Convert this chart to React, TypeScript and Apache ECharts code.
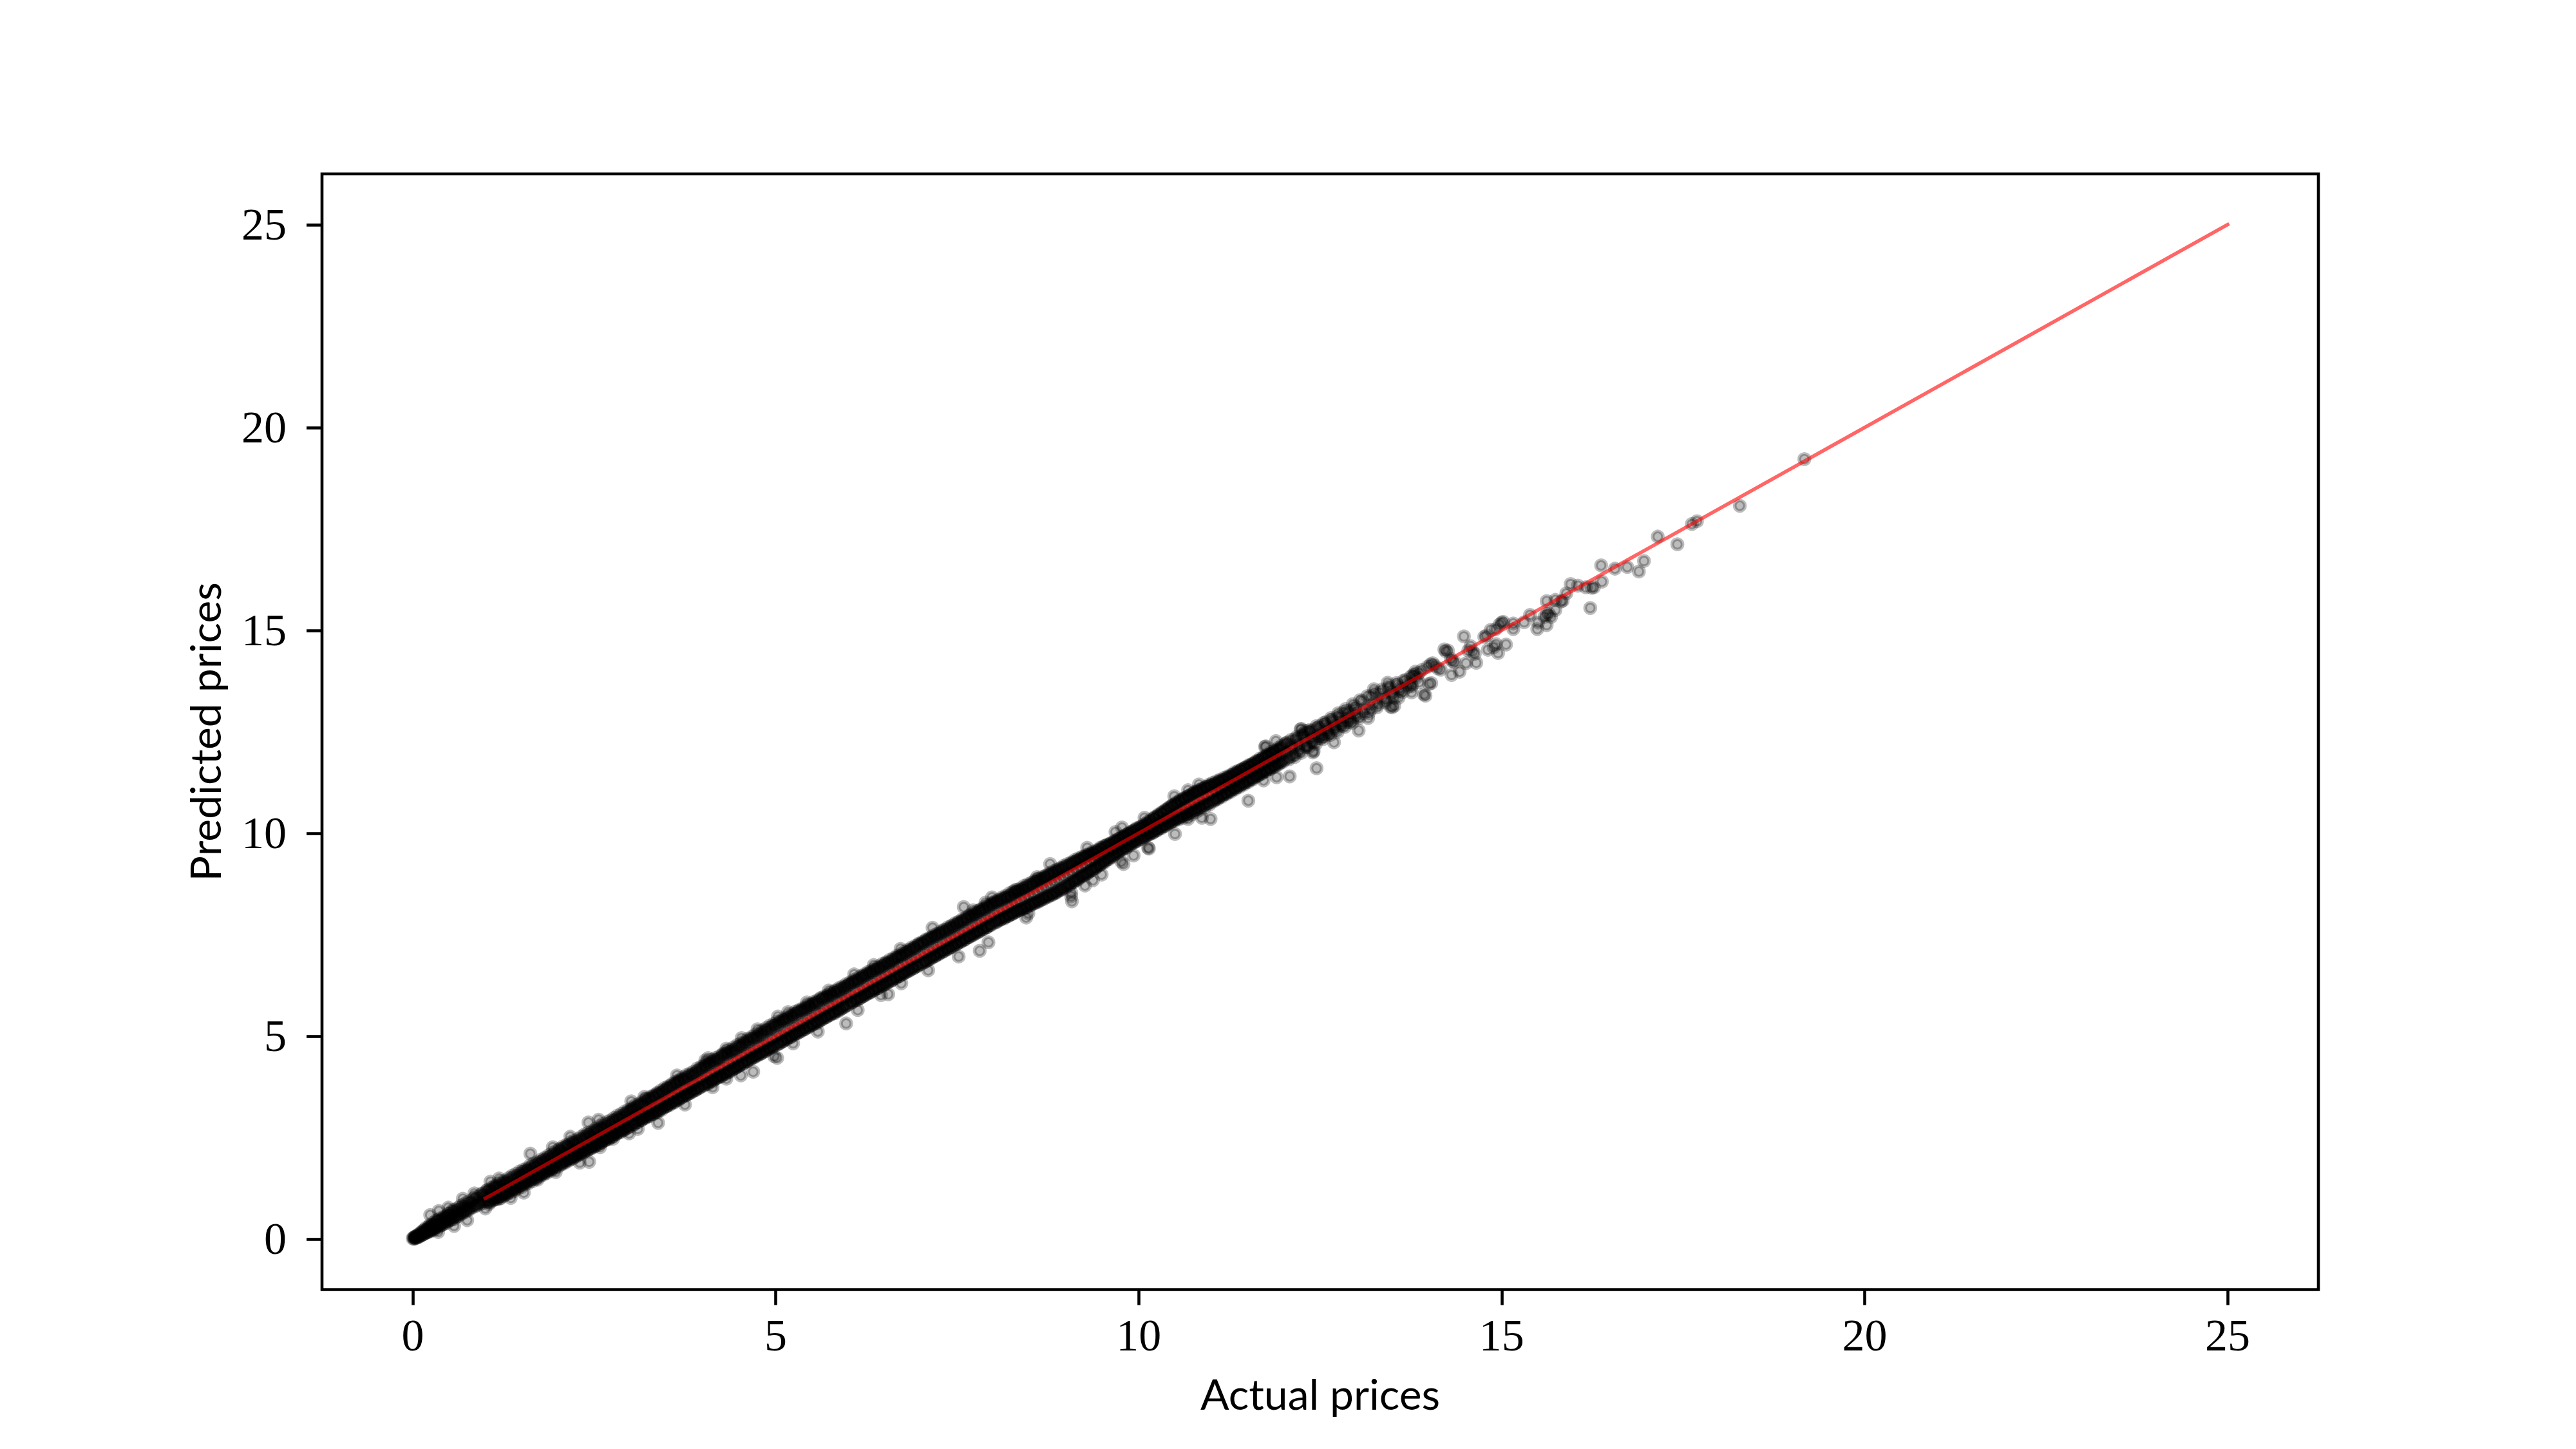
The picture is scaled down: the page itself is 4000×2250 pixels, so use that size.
import React, { useEffect, useRef } from "react";
import * as echarts from "echarts";

const xTickValues = [0, 5, 10, 15, 20, 25];
const yTickValues = [0, 5, 10, 15, 20, 25];
const xAxisTitle = "Actual prices";
const yAxisTitle = "Predicted prices";
const referenceLine = [[1, 1], [25, 25]];

// Flat x,y lists, one list per stretch of the cloud.
const band0 = [0,0.01,0.01,0.03,0.02,0,0.03,0.05,0.03,0.02,0.04,0.06,0.05,0.03,0.06,0.09,0.07,0.04,0.08,0.1,0.09,0.06,0.1,0.14,0.11,0.08,0.12,0.16,0.13,0.1,0.14,0.2,0.15,0.12,0.16,0.22,0.17,0.14,0.18,0.27,0.19,0.16,0.2,0.24,0.21,0.17,0.22,0.31,0.23,0.2,0.24,0.35,0.25,0.19,0.26,0.3,0.27,0.23,0.28,0.4,0.29,0.22,0.3,0.36,0.31,0.27,0.32,0.46,0.33,0.25,0.34,0.41,0.36,0.3,0.37,0.5,0.38,0.33,0.4,0.47,0.41,0.36,0.43,0.55,0.44,0.38,0.46,0.52,0.47,0.4,0.49,0.62,0.5,0.45,0.52,0.58,0.54,0.48,0.55,0.71,0.57,0.49,0.59,0.64,0.61,0.55,0.62,0.76,0.64,0.57,0.66,0.72,0.68,0.62,0.7,0.85,0.72,0.66,0.74,0.8,0.76,0.7,0.78,0.93,0.8,0.75,0.82,0.9,0.84,0.79,0.86,1.03,0.88,0.82,0.9,0.98,0.92,0.85,0.94,1.1,0.96,0.88,0.98,1.06];
const band1 = [1.01,1.14,1.02,0.92,1.04,1.06,1.05,0.86,1.07,1.2,1.09,1,1.1,1.17,1.12,0.99,1.14,1.29,1.15,1.04,1.17,1.1,1.19,1.3,1.2,1.05,1.22,1.22,1.24,1.1,1.25,1.36,1.27,1.16,1.29,1.24,1.3,1.12,1.32,1.42,1.34,1.22,1.35,1.3,1.37,1.5,1.39,1.24,1.4,1.32,1.42,1.28,1.44,1.55,1.45,1.4,1.47,1.3,1.49,1.6,1.5,1.38,1.52,1.58,1.54,1.4,1.55,1.62,1.57,1.42,1.59,1.72,1.6,1.5,1.62,1.44,1.64,1.76,1.65,1.58,1.67,1.52,1.69,1.8,1.7,1.62,1.72,1.56,1.74,1.88,1.75,1.66,1.77,1.6,1.79,1.92,1.8,1.72,1.82,1.64,1.84,1.98,1.85,1.78,1.87,1.7,1.89,2.02,1.9,1.82,1.92,1.74,1.94,2.08,1.95,1.88,1.97,1.8,1.99,2.1];
const band2 = [2.01,1.9,2.03,2.16,2.04,1.84,2.06,2.02,2.08,2.24,2.09,1.92,2.11,2.08,2.13,1.94,2.14,2.3,2.16,2,2.18,2.12,2.2,2.34,2.21,2.02,2.23,2.18,2.25,2.06,2.27,2.4,2.28,2.14,2.3,2.26,2.32,2.12,2.34,2.46,2.35,2.24,2.37,2.16,2.39,2.5,2.41,2.32,2.43,2.22,2.44,2.58,2.46,2.36,2.48,2.28,2.5,2.62,2.52,2.44,2.53,2.3,2.55,2.68,2.57,2.48,2.59,2.36,2.61,2.74,2.62,2.52,2.64,2.42,2.66,2.8,2.68,2.6,2.7,2.5,2.72,2.86,2.74,2.64,2.75,2.52,2.77,2.9,2.79,2.72,2.81,2.6,2.83,2.98,2.85,2.76,2.87,2.64,2.89,3.02,2.91,2.82,2.92,2.7,2.94,3.1,2.96,2.9,2.98,2.76,3,3.14];
const band3 = [3.02,2.92,3.03,3.2,3.05,2.84,3.07,3.04,3.09,3.26,3.11,2.96,3.13,3.08,3.15,2.92,3.17,3.3,3.18,3.06,3.2,3,3.22,3.38,3.24,3.16,3.26,3.02,3.28,3.42,3.3,3.2,3.32,3.08,3.33,3.5,3.35,3.26,3.37,3.12,3.39,3.56,3.41,3.32,3.43,3.18,3.45,3.62,3.47,3.38,3.49,3.26,3.5,3.7,3.52,3.44,3.54,3.3,3.56,3.78,3.58,3.5,3.6,3.36,3.62,3.84,3.64,3.58,3.66,3.42,3.67,3.88,3.69,3.62,3.71,3.5,3.73,3.92,3.75,3.68,3.77,3.54,3.79,3.98,3.81,3.72,3.83,3.6,3.85,4.02,3.87,3.8,3.89,3.66,3.91,4.1,3.93,3.86,3.95,3.72,3.97,4.2,3.99,3.92];
const band4 = [4.01,3.78,4.03,4.24,4.05,4,4.07,3.82,4.09,4.32,4.11,4.06,4.13,3.88,4.15,4.36,4.17,4.1,4.19,3.96,4.21,4.42,4.23,4.18,4.25,4,4.27,4.5,4.29,4.24,4.31,4.06,4.33,4.56,4.35,4.3,4.37,4.12,4.39,4.62,4.41,4.36,4.43,4.2,4.45,4.66,4.47,4.42,4.49,4.26,4.51,4.74,4.53,4.5,4.55,4.32,4.57,4.8,4.59,4.56,4.61,4.38,4.63,4.88,4.65,4.6,4.67,4.46,4.69,4.92,4.71,4.66,4.73,4.52,4.75,4.98,4.77,4.74,4.79,4.56,4.81,5.04,4.83,4.78,4.85,4.64,4.87,5.12,4.89,4.84,4.91,4.7,4.93,5.2,4.95,4.92,4.97,4.76,4.99,5.26];
const band5 = [5.01,4.98,5.03,4.8,5.05,5.3,5.07,5.02,5.09,4.86,5.11,5.38,5.13,5.1,5.15,4.92,5.17,5.42,5.19,5.16,5.21,4.98,5.23,5.48,5.25,5.22,5.27,5.06,5.29,5.56,5.31,5.28,5.33,5.1,5.35,5.6,5.37,5.34,5.39,5.16,5.41,5.66,5.43,5.42,5.45,5.22,5.47,5.72,5.49,5.48,5.51,5.28,5.53,5.78,5.55,5.54,5.57,5.32,5.59,5.82,5.61,5.58,5.63,5.4,5.65,5.9,5.67,5.66,5.69,5.46,5.71,5.96,5.73,5.72,5.75,5.52,5.77,6,5.79,5.76,5.81,5.56,5.83,6.06,5.85,5.84,5.87,5.62,5.89,6.1,5.91,5.9,5.93,5.7,5.95,6.2,5.97,5.94,5.99,5.76];
const band6 = [6.01,6.26,6.03,6,6.05,5.82,6.07,6.34,6.09,6.08,6.11,5.88,6.13,6.38,6.15,6.14,6.17,5.94,6.19,6.46,6.21,6.2,6.23,6,6.25,6.5,6.27,6.26,6.29,6.06,6.31,6.56,6.33,6.32,6.35,6.12,6.37,6.62,6.39,6.38,6.41,6.18,6.43,6.66,6.45,6.44,6.47,6.24,6.49,6.74,6.51,6.5,6.53,6.3,6.55,6.78,6.57,6.56,6.59,6.36,6.61,6.84,6.63,6.62,6.65,6.42,6.67,6.92,6.69,6.7,6.71,6.48,6.73,6.98,6.75,6.76,6.77,6.54,6.79,7.04,6.81,6.8,6.83,6.6,6.85,7.1,6.87,6.86,6.89,6.66,6.91,7.16,6.93,6.92,6.95,6.72,6.97,7.24,6.99,6.98];
const band7 = [7.01,6.78,7.03,7.3,7.05,7.04,7.07,6.84,7.09,7.34,7.11,7.1,7.13,6.9,7.15,7.42,7.17,7.16,7.19,6.96,7.21,7.46,7.23,7.22,7.25,7.02,7.27,7.52,7.29,7.28,7.31,7.08,7.33,7.56,7.35,7.34,7.37,7.14,7.39,7.62,7.41,7.4,7.43,7.2,7.45,7.68,7.47,7.46,7.49,7.26,7.51,7.76,7.53,7.52,7.55,7.32,7.57,7.82,7.59,7.58,7.61,7.38,7.63,7.88,7.65,7.64,7.67,7.44,7.69,7.94,7.71,7.7,7.73,7.5,7.75,8,7.77,7.76,7.79,7.56,7.81,8.06,7.83,7.82,7.85,7.62,7.87,8.12,7.89,7.88,7.91,7.68,7.93,8.18,7.95,7.94,7.97,7.74,7.99,8.26];
const band8 = [8.01,8,8.03,7.8,8.05,8.3,8.07,8.06,8.09,7.86,8.11,8.34,8.13,8.12,8.15,7.9,8.17,8.4,8.19,8.18,8.21,7.96,8.23,8.44,8.25,8.24,8.27,8.02,8.29,8.5,8.31,8.3,8.33,8.08,8.35,8.56,8.37,8.36,8.39,8.12,8.41,8.62,8.43,8.42,8.45,8.16,8.47,8.66,8.49,8.46,8.51,8.22,8.53,8.72,8.55,8.52,8.57,8.28,8.59,8.8,8.61,8.58,8.63,8.32,8.65,8.84,8.67,8.64,8.69,8.38,8.71,8.9,8.73,8.7,8.75,8.44,8.77,8.96,8.79,8.76,8.81,8.48,8.83,9,8.85,8.82,8.87,8.54,8.89,9.06,8.91,8.88,8.93,8.6,8.95,9.12,8.97,8.94,8.99,8.68];
const band9 = [9.01,9.18,9.03,9,9.05,8.72,9.07,9.24,9.09,9.06,9.11,8.8,9.13,9.3,9.15,9.12,9.17,8.86,9.19,9.36,9.21,9.18,9.23,8.94,9.25,9.4,9.27,9.24,9.29,9,9.31,9.46,9.33,9.3,9.35,9.08,9.37,9.5,9.39,9.36,9.41,9.14,9.43,9.56,9.45,9.42,9.47,9.22,9.49,9.64,9.51,9.48,9.53,9.28,9.55,9.7,9.57,9.54,9.59,9.36,9.61,9.74,9.63,9.6,9.65,9.42,9.67,9.8,9.69,9.66,9.71,9.5,9.73,9.86,9.75,9.72,9.77,9.58,9.79,9.92,9.81,9.78,9.83,9.64,9.85,9.98,9.87,9.84,9.89,9.72,9.91,10.04,9.93,9.9,9.95,9.78,9.97,10.1,9.99,9.96];
const band10 = [10.01,9.84,10.03,10.14,10.05,10.02,10.07,9.9,10.09,10.2,10.11,10.08,10.13,9.96,10.15,10.28,10.17,10.14,10.19,10,10.21,10.36,10.23,10.2,10.25,10.06,10.27,10.42,10.29,10.26,10.31,10.12,10.33,10.5,10.35,10.32,10.37,10.18,10.39,10.58,10.41,10.38,10.43,10.24,10.45,10.66,10.47,10.44,10.49,10.3,10.51,10.72,10.53,10.5,10.55,10.34,10.57,10.8,10.59,10.56,10.61,10.38,10.63,10.86,10.65,10.62,10.67,10.42,10.69,10.92,10.71,10.68,10.73,10.46,10.75,10.98,10.77,10.74,10.79,10.52,10.81,11.02,10.83,10.8,10.85,10.58,10.87,11.08,10.89,10.86,10.91,10.64,10.93,11.14,10.95,10.92,10.97,10.7,10.99,11.18];
const band11 = [11.01,10.98,11.03,10.78,11.05,11.22,11.07,11.04,11.09,10.84,11.11,11.28,11.13,11.1,11.15,10.9,11.17,11.32,11.19,11.16,11.21,10.96,11.23,11.38,11.25,11.22,11.27,11.02,11.29,11.44,11.31,11.28,11.33,11.08,11.35,11.5,11.37,11.34,11.39,11.14,11.41,11.56,11.43,11.4,11.45,11.2,11.47,11.6,11.49,11.46,11.51,11.26,11.53,11.66,11.55,11.52,11.57,11.32,11.59,11.72,11.61,11.58,11.63,11.4,11.65,11.78,11.67,11.64,11.69,11.46,11.71,11.84,11.73,11.7,11.75,11.52,11.77,11.9,11.79,11.76,11.81,11.58,11.83,11.96,11.85,11.82,11.87,11.64,11.89,12.02,11.91,11.88,11.93,11.7,11.95,12.08,11.97,11.94,11.99,11.76];
const band12 = [12.02,12.2,12.04,12,12.07,11.82,12.1,12.3,12.12,12.1,12.15,11.88,12.18,12.38,12.2,12.16,12.24,11.98,12.27,12.46,12.3,12.26,12.34,12.12,12.37,12.52,12.4,12.36,12.44,12.2,12.47,12.6,12.5,12.44,12.54,12.32,12.57,12.68,12.6,12.56,12.64,12.42,12.67,12.76,12.7,12.64,12.74,12.5,12.77,12.86,12.8,12.74,12.84,12.62,12.87,12.96,12.9,12.84,12.94,12.72,12.97,13.06,13,12.94];
const band13 = [13.04,12.84,13.08,13.26,13.12,13.08,13.17,12.96,13.2,13.38,13.24,13.2,13.28,13.1,13.32,13.46,13.36,13.34,13.4,13.22,13.44,13.58,13.48,13.46,13.52,13.34,13.56,13.66,13.6,13.58,13.64,13.48,13.68,13.78,13.72,13.7,13.76,13.62,13.8,13.9,13.83,13.84,13.86,13.72];
const fill0 = [0.02,0.04,0.04,0.02,0.06,0.07,0.08,0.05,0.1,0.11,0.12,0.09,0.14,0.17,0.16,0.13,0.18,0.2,0.2,0.16,0.22,0.27,0.24,0.21,0.26,0.33,0.28,0.25,0.3,0.33,0.32,0.29,0.34,0.46,0.36,0.34,0.38,0.42,0.4,0.34,0.42,0.52,0.44,0.42,0.46,0.56,0.48,0.44,0.5,0.62,0.52,0.47,0.54,0.67,0.56,0.53,0.58,0.72,0.6,0.56,0.62,0.7,0.64,0.61,0.66,0.82,0.68,0.65,0.7,0.78,0.72,0.69,0.74,0.9,0.76,0.73,0.78,0.86,0.8,0.78,0.84,1,0.86,0.83,0.9,1.04,0.92,0.9,0.96,1.12,0.98,0.93];
const fill1 = [1.03,1.2,1.06,0.9,1.08,1.13,1.11,0.95,1.13,1.28,1.16,0.98,1.18,1.24,1.21,1,1.23,1.34,1.26,1.07,1.28,1.4,1.31,1.14,1.33,1.38,1.36,1.2,1.38,1.46,1.41,1.22,1.43,1.5,1.46,1.3,1.48,1.56,1.51,1.34,1.53,1.66,1.56,1.38,1.58,1.68,1.61,1.46,1.63,1.7,1.66,1.48,1.68,1.78,1.71,1.54,1.73,1.84,1.76,1.58,1.78,1.86,1.81,1.62,1.83,1.92,1.86,1.68,1.88,1.96,1.91,1.72,1.93,2,1.96,1.76,1.98,2.06];
const fill2 = [2.02,2.2,2.05,1.86,2.07,2.14,2.1,1.9,2.12,2.28,2.15,1.96,2.17,2.24,2.2,1.98,2.22,2.38,2.25,2.04,2.27,2.34,2.3,2.08,2.32,2.44,2.35,2.14,2.37,2.52,2.4,2.18,2.42,2.56,2.45,2.24,2.47,2.54,2.5,2.28,2.52,2.66,2.55,2.34,2.57,2.7,2.6,2.38,2.62,2.72,2.65,2.44,2.67,2.76,2.7,2.46,2.72,2.82,2.75,2.56,2.77,2.92,2.8,2.58,2.82,2.96,2.85,2.66,2.87,2.98,2.9,2.68,2.92,3.06,2.95,2.74,2.97,3.12];
const fill3 = [3.02,3.2,3.05,2.82,3.07,3.22,3.1,2.88,3.12,3.3,3.15,2.94,3.17,3.34,3.2,2.98,3.22,3.44,3.25,3.04,3.27,3.46,3.3,3.08,3.32,3.52,3.35,3.12,3.37,3.58,3.4,3.18,3.42,3.6,3.45,3.24,3.47,3.66,3.5,3.28,3.52,3.72,3.55,3.34,3.57,3.74,3.6,3.38,3.62,3.82,3.65,3.44,3.67,3.9,3.7,3.48,3.72,3.94,3.75,3.54,3.77,3.96,3.8,3.58,3.82,4.04,3.85,3.64,3.87,4.06,3.9,3.68,3.92,4.14,3.95,3.74,3.97,4.16];
const fill4 = [4.02,4.26,4.05,3.82,4.07,4.3,4.1,3.88,4.12,4.36,4.15,3.92,4.17,4.4,4.2,3.98,4.22,4.44,4.25,4.02,4.27,4.54,4.3,4.08,4.32,4.58,4.35,4.12,4.37,4.6,4.4,4.18,4.42,4.64,4.45,4.22,4.47,4.72,4.5,4.28,4.52,4.76,4.55,4.34,4.57,4.84,4.6,4.38,4.62,4.86,4.65,4.44,4.67,4.94,4.7,4.48,4.72,4.96,4.75,4.54,4.77,5.02,4.8,4.58,4.82,5.08,4.85,4.62,4.87,5.14,4.9,4.68,4.92,5.16,4.95,4.72,4.97,5.24];
const fill5 = [5.02,5.28,5.05,4.82,5.07,5.36,5.1,4.88,5.12,5.4,5.15,4.94,5.17,5.44,5.2,4.98,5.22,5.5,5.25,5.04,5.27,5.54,5.3,5.08,5.32,5.62,5.35,5.14,5.37,5.64,5.4,5.18,5.42,5.7,5.45,5.24,5.47,5.76,5.5,5.28,5.52,5.8,5.55,5.34,5.57,5.84,5.6,5.38,5.62,5.92,5.65,5.44,5.67,5.94,5.7,5.48,5.72,6,5.75,5.54,5.77,6.04,5.8,5.58,5.82,6.1,5.85,5.64,5.87,6.14,5.9,5.68,5.92,6.18,5.95,5.74,5.97,6.22];
const fill6 = [6.02,6.28,6.05,5.84,6.07,6.32,6.1,5.9,6.12,6.36,6.15,5.92,6.17,6.42,6.2,5.98,6.22,6.48,6.25,6.04,6.27,6.54,6.3,6.08,6.32,6.58,6.35,6.14,6.37,6.64,6.4,6.18,6.42,6.68,6.45,6.24,6.47,6.72,6.5,6.28,6.52,6.8,6.55,6.34,6.57,6.82,6.6,6.38,6.62,6.88,6.65,6.44,6.67,6.94,6.7,6.48,6.72,6.98,6.75,6.54,6.77,7.02,6.8,6.58,6.82,7.08,6.85,6.64,6.87,7.14,6.9,6.68,6.92,7.18,6.95,6.74,6.97,7.26];
const fill7 = [7.02,7.28,7.05,6.82,7.07,7.36,7.1,6.88,7.12,7.4,7.15,6.94,7.17,7.44,7.2,6.98,7.22,7.5,7.25,7.04,7.27,7.54,7.3,7.08,7.32,7.6,7.35,7.14,7.37,7.64,7.4,7.18,7.42,7.7,7.45,7.24,7.47,7.74,7.5,7.28,7.52,7.8,7.55,7.34,7.57,7.84,7.6,7.38,7.62,7.9,7.65,7.44,7.67,7.96,7.7,7.48,7.72,7.98,7.75,7.54,7.77,8.04,7.8,7.58,7.82,8.1,7.85,7.64,7.87,8.14,7.9,7.68,7.92,8.2,7.95,7.74,7.97,8.24];
const fill8 = [8.02,8.3,8.05,7.82,8.07,8.34,8.1,7.88,8.12,8.38,8.15,7.92,8.17,8.42,8.2,7.96,8.22,8.46,8.25,8,8.27,8.52,8.3,8.06,8.32,8.56,8.35,8.1,8.37,8.6,8.4,8.14,8.42,8.64,8.45,8.18,8.47,8.7,8.5,8.24,8.52,8.74,8.55,8.28,8.57,8.8,8.6,8.32,8.62,8.84,8.65,8.36,8.67,8.88,8.7,8.42,8.72,8.94,8.75,8.46,8.77,8.98,8.8,8.5,8.82,9.02,8.85,8.54,8.87,9.08,8.9,8.6,8.92,9.12,8.95,8.64,8.97,9.16];
const fill9 = [9.02,8.72,9.05,9.22,9.07,8.78,9.1,9.28,9.12,8.84,9.15,9.32,9.17,8.9,9.2,9.36,9.22,8.96,9.25,9.42,9.27,9,9.3,9.46,9.32,9.06,9.35,9.5,9.37,9.12,9.4,9.52,9.42,9.18,9.45,9.58,9.47,9.24,9.5,9.62,9.52,9.3,9.55,9.68,9.57,9.36,9.6,9.72,9.62,9.42,9.65,9.76,9.67,9.48,9.7,9.82,9.72,9.54,9.75,9.88,9.77,9.6,9.8,9.92,9.82,9.64,9.85,9.98,9.87,9.7,9.9,10.02,9.92,9.76,9.95,10.08,9.97,9.8];
const fill10 = [10.02,10.14,10.05,9.86,10.07,10.18,10.1,9.92,10.12,10.24,10.15,9.98,10.17,10.3,10.2,10.02,10.22,10.38,10.25,10.08,10.27,10.44,10.3,10.14,10.32,10.5,10.35,10.18,10.37,10.56,10.4,10.24,10.42,10.62,10.45,10.28,10.47,10.68,10.5,10.34,10.52,10.74,10.55,10.38,10.57,10.78,10.6,10.42,10.62,10.84,10.65,10.46,10.67,10.9,10.7,10.5,10.72,10.94,10.75,10.56,10.77,11,10.8,10.6,10.82,11.04,10.85,10.66,10.87,11.08,10.9,10.7,10.92,11.12,10.95,10.74,10.97,11.16];
const fill11 = [11.02,11.18,11.05,10.82,11.07,11.22,11.1,10.88,11.12,11.28,11.15,10.94,11.17,11.3,11.2,10.98,11.22,11.36,11.25,11.04,11.27,11.4,11.3,11.1,11.32,11.46,11.35,11.14,11.37,11.5,11.4,11.2,11.42,11.56,11.45,11.24,11.47,11.62,11.5,11.3,11.52,11.66,11.55,11.34,11.57,11.7,11.6,11.4,11.62,11.76,11.65,11.44,11.67,11.8,11.7,11.5,11.72,11.86,11.75,11.56,11.77,11.92,11.8,11.6,11.82,11.96,11.85,11.66,11.87,12,11.9,11.72,11.92,12.06,11.95,11.76,11.97,12.12];
const fill12 = [12.03,12.22,12.06,11.86,12.1,12.18,12.14,11.94,12.18,12.3,12.22,12.06,12.26,12.4,12.3,12.14,12.34,12.48,12.38,12.24,12.42,12.56,12.46,12.34,12.5,12.64,12.54,12.4,12.58,12.74,12.62,12.5,12.66,12.8,12.7,12.58,12.74,12.88,12.78,12.66,12.82,12.98,12.86,12.74,12.9,13.02,12.94,12.8,12.98,13.12];
const edgeHigh = [1.02,1.2,1.07,1.25,1.12,1.3,1.17,1.36,1.22,1.42,1.27,1.44,1.32,1.5,1.37,1.56,1.42,1.6,1.47,1.66,1.52,1.7,1.57,1.74,1.62,1.82,1.67,1.86,1.72,1.9,1.77,1.96,1.82,2,1.87,2.06,1.92,2.12,1.97,2.16,2.02,2.22,2.07,2.28,2.12,2.32,2.17,2.38,2.22,2.42,2.27,2.46,2.32,2.52,2.37,2.58,2.42,2.62,2.47,2.66,2.52,2.72,2.57,2.78,2.62,2.84,2.67,2.88,2.72,2.92,2.77,2.98,2.82,3.04,2.87,3.08,2.92,3.14,2.97,3.18,3.02,3.24,3.07,3.3,3.12,3.34,3.17,3.4,3.22,3.46,3.27,3.5,3.32,3.54,3.37,3.6,3.42,3.66,3.47,3.72,3.52,3.76,3.57,3.82,3.62,3.88,3.67,3.92,3.72,3.98,3.77,4.04,3.82,4.08,3.87,4.12,3.92,4.2,3.97,4.24,4.02,4.3,4.07,4.36,4.12,4.42,4.17,4.46,4.22,4.5,4.27,4.56,4.32,4.62,4.37,4.66,4.42,4.72,4.47,4.78,4.52,4.82,4.57,4.88,4.62,4.94,4.67,4.98,4.72,5.04,4.77,5.1,4.82,5.14,4.87,5.2,4.92,5.26,4.97,5.3,5.02,5.36,5.07,5.38,5.12,5.44,5.17,5.5,5.22,5.54,5.27,5.6,5.32,5.64,5.37,5.68,5.42,5.74,5.47,5.78,5.52,5.84,5.57,5.88,5.62,5.94,5.67,5.98,5.72,6.02,5.77,6.08,5.82,6.12,5.87,6.18,5.92,6.22,5.97,6.28,6.02,6.32,6.07,6.38,6.12,6.42,6.17,6.48,6.22,6.52,6.27,6.58,6.32,6.62,6.37,6.68,6.42,6.72,6.47,6.78,6.52,6.82,6.57,6.88,6.62,6.92,6.67,6.98,6.72,7.02,6.77,7.08,6.82,7.12,6.87,7.18,6.92,7.22,6.97,7.28,7.02,7.32,7.07,7.38,7.12,7.42,7.17,7.48,7.22,7.52,7.27,7.58,7.32,7.62,7.37,7.68,7.42,7.72,7.47,7.78,7.52,7.82,7.57,7.88,7.62,7.92,7.67,7.98,7.72,8.02,7.77,8.08,7.82,8.12,7.87,8.18,7.92,8.22,7.97,8.28,8.02,8.32,8.07,8.36,8.12,8.42,8.17,8.46,8.22,8.52,8.27,8.56,8.32,8.6,8.37,8.64,8.42,8.7,8.47,8.74,8.52,8.78,8.57,8.84,8.62,8.88,8.67,8.92,8.72,8.96,8.77,9.02,8.82,9.06,8.87,9.1,8.92,9.14,8.97,9.2,9.02,9.24,9.07,9.28,9.12,9.34,9.17,9.38,9.22,9.42,9.27,9.46,9.32,9.5,9.37,9.54,9.42,9.58,9.47,9.64,9.52,9.68,9.57,9.72,9.62,9.76,9.67,9.82,9.72,9.86,9.77,9.92,9.82,9.96,9.87,10.02,9.92,10.06,9.97,10.12,10.02,10.16,10.07,10.22,10.12,10.28,10.17,10.34,10.22,10.4,10.27,10.46,10.32,10.52,10.37,10.58,10.42,10.64,10.47,10.7,10.52,10.76,10.57,10.82,10.62,10.86,10.67,10.9,10.72,10.96,10.77,11.02,10.82,11.06,10.87,11.1,10.92,11.14,10.97,11.2,11.02,11.24,11.07,11.28,11.12,11.32,11.17,11.36,11.22,11.4,11.27,11.44,11.32,11.5,11.37,11.54,11.42,11.58,11.47,11.62,11.52,11.68,11.57,11.72,11.62,11.78,11.67,11.84,11.72,11.88,11.77,11.94,11.82,12,11.87,12.04,11.92,12.1,11.97,12.16,12.05,12.24,12.15,12.32,12.25,12.42,12.35,12.54,12.45,12.64,12.55,12.72,12.65,12.84,12.75,12.96,12.85,13.06,12.95,13.18,13.05,13.28,13.15,13.38,13.25,13.46,13.35,13.54,13.45,13.62,13.55,13.7,13.65,13.76,13.75,13.86];
const edgeLow = [1.05,0.92,1.1,0.95,1.15,0.98,1.2,1,1.25,1.06,1.3,1.1,1.35,1.14,1.4,1.18,1.45,1.24,1.5,1.28,1.55,1.34,1.6,1.38,1.65,1.42,1.7,1.48,1.75,1.54,1.8,1.58,1.85,1.63,1.9,1.68,1.95,1.73,2,1.78,2.05,1.83,2.1,1.88,2.15,1.93,2.2,1.98,2.25,2.03,2.3,2.08,2.35,2.13,2.4,2.18,2.45,2.22,2.5,2.27,2.55,2.33,2.6,2.38,2.65,2.43,2.7,2.47,2.75,2.53,2.8,2.58,2.85,2.63,2.9,2.68,2.95,2.73,3,2.78,3.05,2.83,3.1,2.88,3.15,2.93,3.2,2.98,3.25,3.03,3.3,3.08,3.35,3.13,3.4,3.18,3.45,3.23,3.5,3.28,3.55,3.33,3.6,3.38,3.65,3.43,3.7,3.48,3.75,3.53,3.8,3.58,3.85,3.63,3.9,3.68,3.95,3.73,4,3.78,4.05,3.83,4.1,3.88,4.15,3.93,4.2,3.98,4.25,4.02,4.3,4.07,4.35,4.12,4.4,4.17,4.45,4.22,4.5,4.27,4.55,4.32,4.6,4.37,4.65,4.42,4.7,4.47,4.75,4.52,4.8,4.57,4.85,4.62,4.9,4.67,4.95,4.72,5,4.77,5.05,4.82,5.1,4.87,5.15,4.92,5.2,4.97,5.25,5.02,5.3,5.07,5.35,5.12,5.4,5.17,5.45,5.22,5.5,5.27,5.55,5.32,5.6,5.37,5.65,5.42,5.7,5.47,5.75,5.52,5.8,5.57,5.85,5.62,5.9,5.67,5.95,5.72,6,5.78,6.05,5.83,6.1,5.88,6.15,5.93,6.2,5.98,6.25,6.03,6.3,6.08,6.35,6.13,6.4,6.18,6.45,6.23,6.5,6.28,6.55,6.33,6.6,6.38,6.65,6.43,6.7,6.48,6.75,6.53,6.8,6.58,6.85,6.63,6.9,6.68,6.95,6.73,7,6.78,7.05,6.83,7.1,6.88,7.15,6.93,7.2,6.98,7.25,7.03,7.3,7.08,7.35,7.13,7.4,7.18,7.45,7.23,7.5,7.28,7.55,7.33,7.6,7.38,7.65,7.43,7.7,7.48,7.75,7.53,7.8,7.58,7.85,7.63,7.9,7.68,7.95,7.73,8,7.79,8.05,7.84,8.1,7.88,8.15,7.92,8.2,7.97,8.25,8.01,8.3,8.05,8.35,8.1,8.4,8.14,8.45,8.18,8.5,8.22,8.55,8.26,8.6,8.3,8.65,8.35,8.7,8.39,8.75,8.43,8.8,8.48,8.85,8.52,8.9,8.58,8.95,8.63,9,8.68,9.05,8.74,9.1,8.8,9.15,8.85,9.2,8.92,9.25,8.97,9.3,9.02,9.35,9.08,9.4,9.14,9.45,9.2,9.5,9.27,9.55,9.33,9.6,9.4,9.65,9.46,9.7,9.52,9.75,9.58,9.8,9.64,9.85,9.7,9.9,9.75,9.95,9.8,10,9.85,10.05,9.9,10.1,9.94,10.15,9.98,10.2,10.03,10.25,10.08,10.3,10.13,10.35,10.18,10.4,10.23,10.45,10.28,10.5,10.33,10.55,10.38,10.6,10.43,10.65,10.47,10.7,10.51,10.75,10.56,10.8,10.6,10.85,10.65,10.9,10.69,10.95,10.74,11,10.78,11.05,10.83,11.1,10.88,11.15,10.93,11.2,10.98,11.25,11.03,11.3,11.08,11.35,11.13,11.4,11.18,11.45,11.23,11.5,11.28,11.55,11.33,11.6,11.38,11.65,11.43,11.7,11.48,11.75,11.53,11.8,11.58,11.85,11.63,11.9,11.68,11.95,11.73,12,11.8,12.1,11.9,12.2,12,12.3,12.12,12.4,12.24,12.5,12.34,12.6,12.44,12.7,12.54,12.8,12.64,12.9,12.74,13,12.86,13.1,12.96,13.2,13.06,13.3,13.18,13.4,13.3,13.5,13.42,13.6,13.5,13.7,13.6];
const outliersUpper = [0.24,0.59,0.36,0.69,0.49,0.77,0.69,0.99,0.85,1.12,1.07,1.41,1.19,1.49,1.62,2.1,1.93,2.26,2.17,2.52,2.42,2.87,2.56,2.94,3.01,3.39,3.19,3.5,3.64,4.03,4.03,4.4,4.07,4.46,4.32,4.69,4.53,4.95,4.75,5.17,5.03,5.48,5.17,5.59,5.43,5.83,5.73,6.12,6.08,6.52,6.35,6.75,6.72,7.15,7.16,7.67,7.59,8.18,7.72,8.1,7.89,8.29,7.98,8.42,8.3,8.6,8.6,8.92,8.78,9.24,9.29,9.64,9.68,10.03,9.77,10.14,10.08,10.38,10.49,10.91,10.68,11.06,10.83,11.2,11.74,12.13,11.75,12.14,11.89,12.27,12.23,12.56];
const outliersLower = [0.35,0.17,0.57,0.32,0.75,0.46,1,0.75,1.35,1.01,1.53,1.14,1.72,1.46,1.97,1.65,2.3,1.88,2.43,1.9,2.58,2.26,2.76,2.47,2.98,2.6,3.1,2.71,3.38,2.86,3.75,3.31,4.13,3.74,4.32,3.95,4.52,4.03,4.69,4.12,5.02,4.46,4.98,4.5,5.24,4.82,5.58,5.11,5.97,5.31,6.13,5.64,6.45,6.01,6.55,6.03,6.73,6.3,7.1,6.62,7.52,6.96,7.81,7.1,7.93,7.31,8.45,7.92,8.48,8.02,9.07,8.44,9.08,8.32,9.07,8.54,9.26,8.71,9.37,8.84,9.49,8.98,9.79,9.24,9.76,9.3,9.93,9.45,10.13,9.64,10.14,9.62,10.5,9.98,10.68,10.35,10.87,10.38,10.99,10.35,11.51,10.8,11.72,11.3,11.9,11.38,12.08,11.4];
const outliersTail = [12.24,12.57,12.3,12.52,12.4,11.99,12.41,12.02,12.45,11.6,12.55,12.39,12.69,12.24,13.03,12.53,13.16,12.84,13.24,13.55,13.43,13.71,13.49,13.1,13.47,13.12,13.52,13.14,13.58,13.34,13.76,13.66,13.76,13.47,13.78,13.9,13.81,13.98,13.86,13.95,13.9,14.02,13.95,13.39,13.93,13.42,14.03,13.7,14,13.68,14.05,14.19,14.02,14.16,14.08,14.13,13.98,14.1,14.16,14.03,14.12,14.06,14.21,14.53,14.23,14.48,14.26,14.5,14.31,13.9,14.32,14.24,14.35,14.22,14.3,14.3,14.42,13.98,14.48,14.85,14.51,14.19,14.57,14.61,14.6,14.48,14.63,14.42,14.54,14.5,14.65,14.2,14.79,14.87,14.76,14.84,14.81,14.52,14.85,15.01,14.89,14.58,14.92,15.03,14.92,14.66,14.97,15.14,15,15.19,15.02,15.21,14.95,14.44,15.06,14.65,15.16,15.03,15.16,15.17,15.31,15.2,15.39,15.38,15.49,15.03,15.5,15.19,15.59,15.33,15.62,15.4,15.62,15.13,15.62,15.72,15.65,15.41,15.68,15.33,15.74,15.75,15.74,15.5,15.84,15.73,15.82,15.71,15.89,15.91,15.95,16.14,16.05,16.1,16.16,16.06,16.22,15.55,16.24,16.05,16.27,16.06,16.37,16.6,16.38,16.2,16.56,16.52,16.73,16.56,16.89,16.45,16.96,16.71,17.15,17.31,17.42,17.12,17.62,17.62,17.69,17.69,18.28,18.07,19.17,19.22];

const cloudLists = [band0, band1, band2, band3, band4, band5, band6, band7, band8, band9, band10, band11, band12, band13, fill0, fill1, fill2, fill3, fill4, fill5, fill6, fill7, fill8, fill9, fill10, fill11, fill12, edgeHigh, edgeLow, outliersUpper, outliersLower, outliersTail];

function toPoints(list: number[]) {
  const out: number[][] = [];
  for (let i = 0; i + 1 < list.length; i += 2) out.push([list[i], list[i + 1]]);
  return out;
}

export default function App() {
  const ref = useRef<HTMLDivElement>(null);
  useEffect(() => {
    const chart = echarts.init(ref.current!, undefined, { renderer: "svg" });
    const black = "#000";
    const axisCommon = {
      type: "value" as const,
      splitLine: { show: false },
      axisLine: { show: false, onZero: false },
      axisTick: { show: true, inside: false, length: 24, lineStyle: { color: black, width: 4.6 } },
    };
    chart.setOption({
      animation: false,
      backgroundColor: "#fff",
      grid: { left: 500, right: 400, top: 270, bottom: 247.5, show: true, borderColor: black, borderWidth: 4.6, backgroundColor: "transparent" },
      xAxis: {
        ...axisCommon,
        min: -1.25,
        max: 26.25,
        name: xAxisTitle,
        nameLocation: "middle",
        nameGap: 128,
        nameTextStyle: { fontFamily: "Lato", fontSize: 66, color: black },
        axisTick: { ...axisCommon.axisTick, customValues: xTickValues },
        axisLabel: { customValues: xTickValues, margin: 36, fontFamily: "Liberation Serif", fontSize: 70, color: black, showMinLabel: true, showMaxLabel: true },
      },
      yAxis: {
        ...axisCommon,
        min: -1.25,
        max: 26.25,
        name: yAxisTitle,
        nameLocation: "middle",
        nameGap: 150,
        nameTextStyle: { fontFamily: "Lato", fontSize: 66, color: black },
        axisTick: { ...axisCommon.axisTick, customValues: yTickValues },
        axisLabel: { customValues: yTickValues, margin: 55, fontFamily: "Liberation Serif", fontSize: 70, color: black, showMinLabel: true, showMaxLabel: true },
      },
      series: [
        {
          type: "scatter",
          data: cloudLists.flatMap(toPoints),
          symbol: "circle",
          symbolSize: 16,
          large: false,
          progressive: 0,
          silent: true,
          z: 2,
          itemStyle: { color: "rgba(0,0,0,0.33)", borderColor: "rgba(0,0,0,0.33)", borderWidth: 5.55 },
        },
        {
          type: "line",
          data: referenceLine,
          showSymbol: false,
          symbol: "none",
          silent: true,
          z: 3,
          lineStyle: { color: "rgba(255,0,0,0.6)", width: 5.55, cap: "square" },
        },
      ],
    });
    return () => chart.dispose();
  }, []);
  return <div ref={ref} style={{ position: "absolute", left: 0, top: 0, width: 4000, height: 2250 }} />;
}
